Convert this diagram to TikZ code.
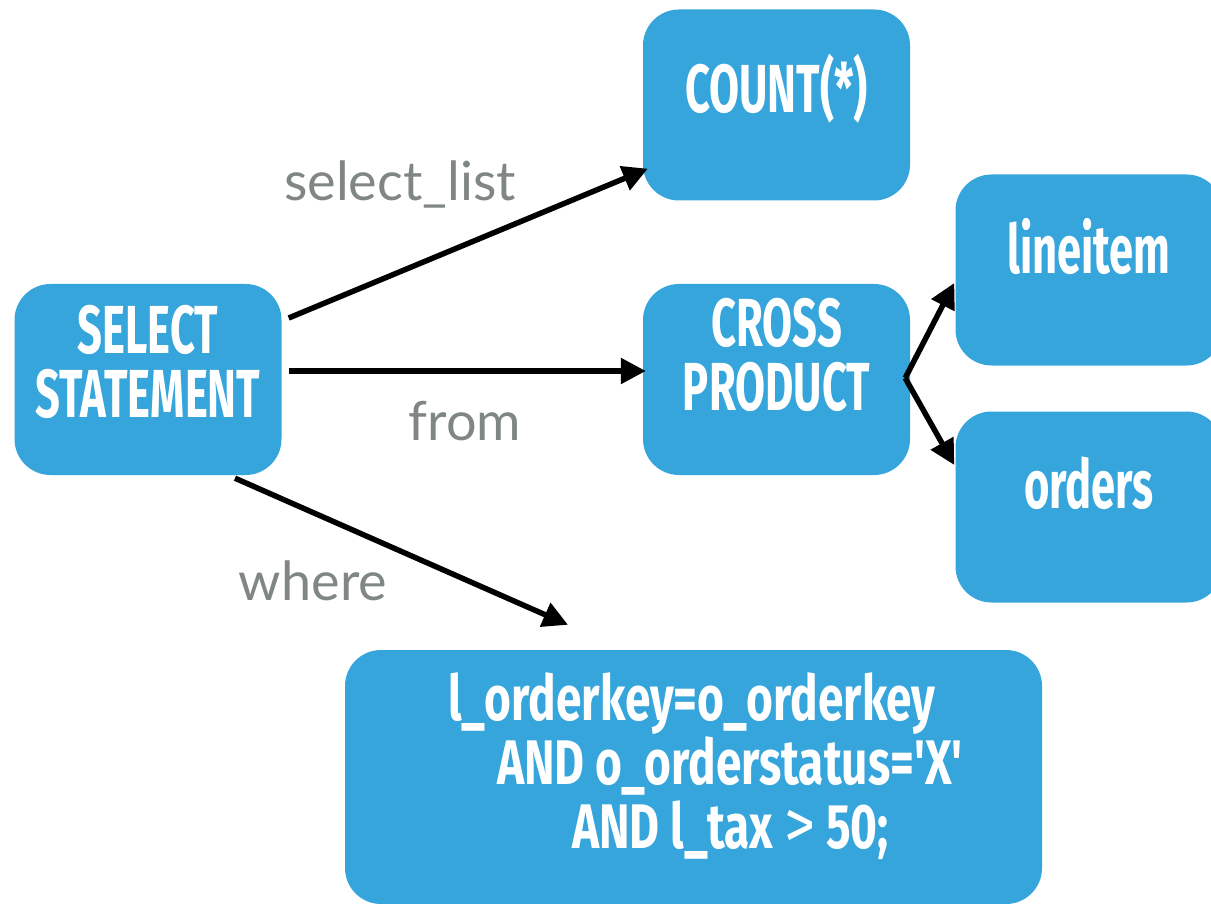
\documentclass[tikz,border=0pt]{standalone}
\usepackage{fontspec}
\usetikzlibrary{arrows.meta,calc}
\newfontfamily\boxfont{Fira Sans}[FakeStretch=0.64]
\newfontfamily\condfont{Fira Sans}[FakeStretch=0.73]
\newfontfamily\edgefont{Lato}
\definecolor{boxblue}{RGB}{54,165,220}
\definecolor{edgegray}{RGB}{128,133,133}
\newcommand{\widegt}{{\mdseries\scalebox{1.35}[1.1]{>}}}
\tikzset{
  blockbox/.style={rectangle, rounded corners=36pt, fill=boxblue, draw=none,
    minimum width=267pt, minimum height=191pt, inner sep=0pt},
  boxtext/.style={text=white, align=center, inner sep=0pt, anchor=base,
    font=\boxfont\bfseries\fontsize{68}{64}\selectfont},
  condtext/.style={text=white, align=left, inner sep=0pt, anchor=base west,
    font=\condfont\bfseries\fontsize{63}{64}\selectfont},
  link/.style={line width=5.5pt, -{Triangle[length=25pt,width=25pt]}},
  edgelabel/.style={text=edgegray, font=\edgefont\fontsize{54}{60}\selectfont,
    inner sep=0pt, anchor=base}
}
\begin{document}
\begin{tikzpicture}[x=1pt,y=-1pt]
  \clip (0,0) rectangle (1211,904);
  \fill[white] (0,0) rectangle (1211,904);

  % blocks
  \node[blockbox] (sel)   at (148,379.5) {};
  \node[blockbox] (cnt)   at (776.5,105) {};
  \node[blockbox] (cross) at (776.5,379.5) {};
  \node[blockbox] (line)  at (1089,270) {};
  \node[blockbox] (ord)   at (1089,507) {};
  \node[blockbox, minimum width=697pt, minimum height=254pt] (wh) at (693.5,777) {};

  % block captions (base anchor = baseline of the last line)
  \node[boxtext] (selt)   at (148,417)   {SELECT\\STATEMENT};
  \node[boxtext] (cntt)   at (776.5,113) {COUNT(*)};
  \node[boxtext] (crosst) at (776.5,410) {CROSS\\PRODUCT};
  \node[boxtext] (linet)  at (1089,274)  {lineitem};
  \node[boxtext] (ordt)   at (1089,508)  {orders};
  \node[condtext] (wht)   at (448,848)
    {l\_orderkey=o\_orderkey\\
     \hspace*{49pt}AND o\_orderstatus='X'\\
     \hspace*{124pt}AND l\_tax \widegt{} 50;};

  % connectors
  \draw[link] ([shift={(7,-61.5)}]sel.east) -- ([shift={(5,-32)}]cnt.south west);
  \draw[link] ([shift={(7,-8.5)}]sel.east) -- ([shift={(3,-8.5)}]cross.west);
  \draw[link] ([shift={(87,3)}]sel.south) -- ([shift={(-125.5,-25)}]wh.north);
  \draw[link] ([shift={(-5,-1.5)}]cross.east) -- ([shift={(-1,13)}]line.west);
  \draw[link] ([shift={(-5,-1.5)}]cross.east) -- ([shift={(-1,-42)}]ord.west);

  % edge labels
  \node[edgelabel] (lsel)  at (400,201) {select\_list};
  \node[edgelabel] (lfrom) at (465,440) {from};
  \node[edgelabel] (lwh)   at (313,600) {where};
\end{tikzpicture}
\end{document}
